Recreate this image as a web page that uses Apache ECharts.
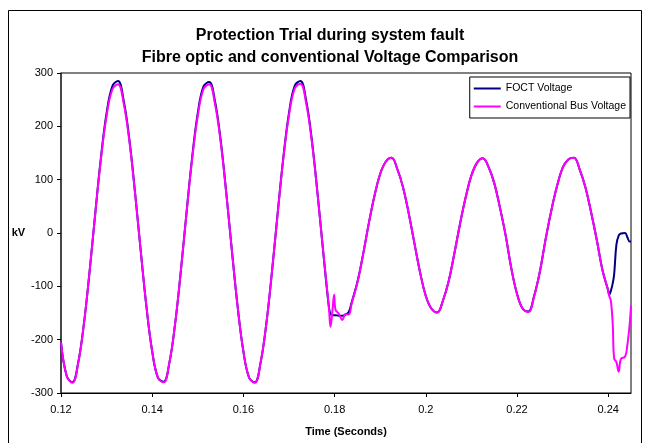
<!DOCTYPE html>
<html>
<head>
<meta charset="utf-8">
<title>Protection Trial during system fault</title>
<script src="https://cdn.jsdelivr.net/npm/echarts@6/dist/echarts.min.js"></script>
<style>
  html, body { margin: 0; padding: 0; background: #fff; }
  #chart { width: 648px; height: 443px; }
</style>
</head>
<body>
<div id="chart"></div>
<script>
// time axis (seconds)
var timeSec = [
  0.12, 0.12125, 0.1225, 0.12375, 0.125, 0.12625, 0.1275, 0.12875,
  0.13, 0.13125, 0.1325, 0.13375, 0.135, 0.13625, 0.1375, 0.13875,
  0.14, 0.14125, 0.1425, 0.14375, 0.145, 0.14625, 0.1475, 0.14875,
  0.15, 0.15125, 0.1525, 0.15375, 0.155, 0.15625, 0.1575, 0.15875,
  0.16, 0.16125, 0.1625, 0.16375, 0.165, 0.16625, 0.1675, 0.16875,
  0.17, 0.17125, 0.1725, 0.17375, 0.175, 0.17625, 0.1775, 0.17875,
  0.1791, 0.1795, 0.1799, 0.1802, 0.1809, 0.1817, 0.1824, 0.1831,
  0.18375, 0.185, 0.18625, 0.1875, 0.18875,
  0.19, 0.19125, 0.1925, 0.19375, 0.195, 0.19625, 0.1975, 0.19875,
  0.2, 0.20125, 0.2025, 0.20375, 0.205, 0.20625, 0.2075, 0.20875,
  0.21, 0.21125, 0.2125, 0.21375, 0.215, 0.21625, 0.2175, 0.21875,
  0.22, 0.22125, 0.2225, 0.22375, 0.225, 0.22625, 0.2275, 0.22875,
  0.23, 0.23125, 0.2325, 0.23375, 0.235, 0.23625, 0.2375, 0.23875,
  0.24, 0.2402, 0.2406, 0.241, 0.2413, 0.2418, 0.2423, 0.2428,
  0.2437, 0.2442, 0.2447, 0.245
];

// FOCT voltage (kV)
var foctKv = [
  -205, -268, -280, -244, -172, -74, 36, 141,
  225, 275, 285, 248, 175, 75, -35, -139,
  -222, -271, -279, -244, -172, -74, 36, 141,
  225, 275, 283, 248, 175, 75, -35, -139,
  -222, -271, -280, -244, -172, -74, 36, 141,
  225, 276, 285, 249, 175, 75, -35, -139,
  -152, -154, -154, -154, -155, -155, -153, -148,
  -130, -92, -40, 18, 70,
  111, 134, 141, 120, 86, 37, -19, -74,
  -118, -142, -149, -127, -91, -39, 17, 67,
  108, 132, 140, 124, 94, 48, -4, -66,
  -114, -142, -147, -118, -73, -13, 41, 87,
  122, 138, 141, 119, 86, 39, -13, -70,
  -108, -116, -108, -94, -78, -22, -5, -1,
  0, -8, -16, -16
];

// conventional bus voltage (kV)
var convKv = [
  -205, -268, -281, -245, -172, -74, 35, 138,
  220, 269, 279, 243, 172, 74, -35, -139,
  -222, -271, -280, -244, -172, -74, 35, 138,
  220, 270, 279, 243, 172, 74, -35, -139,
  -222, -271, -281, -244, -172, -74, 35, 139,
  221, 271, 280, 244, 172, 74, -35, -139,
  -176, -148, -116, -144, -151, -163, -152, -153,
  -132, -93, -40, 18, 70,
  111, 134, 141, 120, 86, 37, -19, -74,
  -118, -142, -149, -127, -91, -39, 17, 67,
  108, 132, 140, 124, 94, 48, -4, -66,
  -114, -142, -148, -119, -73, -13, 41, 87,
  122, 138, 141, 119, 86, 39, -13, -70,
  -108, -117, -128, -172, -235, -242, -260, -236,
  -232, -210, -172, -136
];

function pairs(vals) {
  return timeSec.map(function (t, i) { return [t, vals[i]]; });
}

var chart = echarts.init(document.getElementById('chart'));
var font = 'Liberation Sans, Arial, sans-serif';

var option = {
  backgroundColor: '#fff',
  animation: false,
  textStyle: { fontFamily: font },
  title: {
    text: 'Protection Trial during system fault\nFibre optic and conventional Voltage Comparison',
    left: 325,
    textAlign: 'center',
    top: 20,
    textStyle: {
      fontFamily: font,
      fontSize: 16,
      fontWeight: 'bold',
      color: '#000',
      lineHeight: 22
    }
  },
  graphic: [
    {
      type: 'rect',
      shape: { x: 8.5, y: 10.5, width: 633, height: 460 },
      style: { fill: 'none', stroke: '#000', lineWidth: 1 },
      silent: true
    }
  ],
  legend: {
    orient: 'vertical',
    right: 18,
    top: 77,
    padding: [6, 4, 6, 4],
    itemGap: 7,
    itemWidth: 27,
    itemHeight: 2,
    icon: 'rect',
    backgroundColor: '#fff',
    borderColor: '#000',
    borderWidth: 1,
    borderRadius: 0,
    textStyle: { fontFamily: font, fontSize: 10.5, color: '#000' },
    data: ['FOCT Voltage', 'Conventional Bus Voltage']
  },
  grid: {
    left: 61,
    top: 73,
    right: 17,
    bottom: 50,
    show: true,
    borderColor: '#000',
    borderWidth: 1,
    backgroundColor: '#fff'
  },
  xAxis: {
    type: 'value',
    min: 0.12,
    max: 0.245,
    interval: 0.02,
    name: 'Time (Seconds)',
    nameLocation: 'middle',
    nameGap: 33,
    nameTextStyle: { fontFamily: font, fontSize: 11, fontWeight: 'bold', color: '#000' },
    axisLine: { onZero: false, lineStyle: { color: '#000', width: 1 } },
    axisTick: { inside: false, length: 4, lineStyle: { color: '#000' } },
    axisLabel: { margin: 11, fontFamily: font, fontSize: 11, color: '#000' },
    splitLine: { show: false }
  },
  yAxis: {
    type: 'value',
    min: -300,
    max: 300,
    interval: 100,
    name: 'kV',
    nameLocation: 'middle',
    nameRotate: 0,
    nameGap: 33,
    nameTextStyle: { fontFamily: font, fontSize: 11, fontWeight: 'bold', color: '#000' },
    axisLine: { show: true, lineStyle: { color: '#333', width: 1.5 } },
    axisTick: { show: true, inside: false, length: 4, lineStyle: { color: '#000' } },
    axisLabel: { margin: 8, fontFamily: font, fontSize: 11, color: '#000' },
    splitLine: { show: false }
  },
  series: [
    {
      name: 'FOCT Voltage',
      type: 'line',
      symbol: 'none',
      smooth: 0.4,
      lineStyle: { color: '#000080', width: 2 },
      itemStyle: { color: '#000080' },
      data: pairs(foctKv)
    },
    {
      name: 'Conventional Bus Voltage',
      type: 'line',
      symbol: 'none',
      smooth: 0.4,
      lineStyle: { color: '#ff00ff', width: 2 },
      itemStyle: { color: '#ff00ff' },
      data: pairs(convKv)
    }
  ]
};

chart.setOption(option);
</script>
</body>
</html>
